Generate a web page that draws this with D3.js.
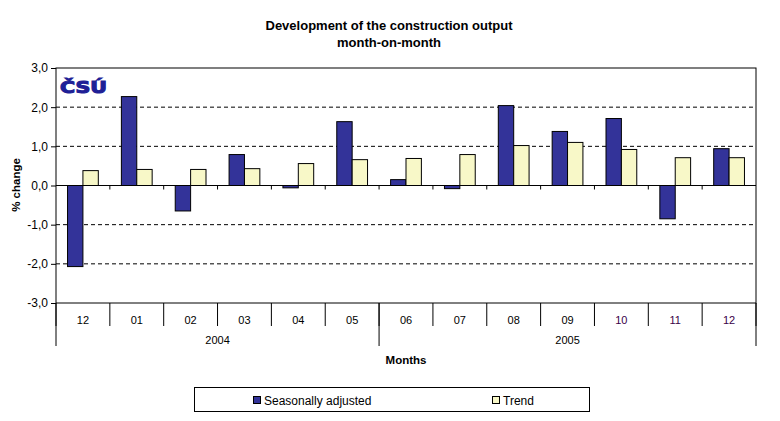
<!DOCTYPE html>
<html>
<head>
<meta charset="utf-8">
<script src="https://cdn.jsdelivr.net/npm/d3@7"></script>
<style>
  body { margin: 0; background: #fff; }
  svg { display: block; font-family: "Liberation Sans", Arial, sans-serif; }
</style>
</head>
<body>
<svg id="chart" width="780" height="421"></svg>
<script>
// chart data
const months = ["12", "01", "02", "03", "04", "05", "06", "07", "08", "09", "10", "11", "12"];
const yearLabels = ["2004", "2005"];
const yearSpans = [6, 7];
const seasonal = [-2.07, 2.27, -0.65, 0.79, -0.06, 1.63, 0.15, -0.08, 2.04, 1.38, 1.71, -0.85, 0.94];
const trend = [0.38, 0.41, 0.41, 0.43, 0.56, 0.66, 0.69, 0.79, 1.02, 1.10, 0.92, 0.71, 0.71];
const yTicks = [-3, -2, -1, 0, 1, 2, 3];
const seriesNames = ["Seasonally adjusted", "Trend"];
const colors = ["#333399", "#f8f8c8"];

const svg = d3.select("#chart");
const plotLeft = 56, plotRight = 756, plotTop = 68, plotBottom = 303;

const x0 = d3.scaleBand().domain(d3.range(months.length)).range([plotLeft, plotRight]);
const x1 = d3.scaleBand().domain([0, 1]).range([0, x0.bandwidth()])
    .paddingInner(0).paddingOuter(0.75);
const y = d3.scaleLinear().domain([-3, 3]).range([plotBottom, plotTop]);

// title
const title = svg.append("text")
    .attr("x", 389).attr("text-anchor", "middle")
    .attr("font-size", 13).attr("font-weight", "bold");
title.append("tspan").attr("x", 389).attr("y", 30).text("Development of the construction output");
title.append("tspan").attr("x", 389).attr("y", 47).text("month-on-month");

// dashed gridlines
svg.append("g")
    .selectAll("line")
    .data(yTicks.filter(d => d !== 0 && Math.abs(d) !== 3))
    .enter().append("line")
    .attr("x1", plotLeft).attr("x2", plotRight)
    .attr("y1", d => y(d)).attr("y2", d => y(d))
    .attr("stroke", "#000").attr("stroke-dasharray", "4,3");

// plot frame
svg.append("rect")
    .attr("x", plotLeft).attr("y", plotTop)
    .attr("width", plotRight - plotLeft).attr("height", plotBottom - plotTop)
    .attr("fill", "none").attr("stroke", "#000");

// logo
svg.append("text")
    .attr("x", 60).attr("y", 93)
    .attr("font-family", "DejaVu Sans")
    .attr("font-size", 16).attr("font-weight", "bold")
    .attr("textLength", 47).attr("lengthAdjust", "spacingAndGlyphs")
    .attr("fill", "#1f1f96")
    .attr("stroke", "#1f1f96").attr("stroke-width", 1.1)
    .text("ČSÚ");

// bars
const series = [seasonal, trend];
series.forEach((vals, s) => {
    svg.append("g")
        .selectAll("rect")
        .data(vals)
        .enter().append("rect")
        .attr("x", (d, i) => x0(i) + x1(s))
        .attr("width", x1.bandwidth())
        .attr("y", d => y(Math.max(0, d)))
        .attr("height", d => Math.abs(y(d) - y(0)))
        .attr("fill", colors[s])
        .attr("stroke", "#000")
        .attr("stroke-width", 1);
});

// zero line with small ticks
svg.append("line")
    .attr("x1", plotLeft).attr("x2", plotRight)
    .attr("y1", y(0)).attr("y2", y(0))
    .attr("stroke", "#000");
svg.append("g")
    .selectAll("line")
    .data(d3.range(1, months.length))
    .enter().append("line")
    .attr("x1", i => x0(i)).attr("x2", i => x0(i))
    .attr("y1", y(0)).attr("y2", y(0) + 4)
    .attr("stroke", "#000");

// y axis
const yAxis = svg.append("g")
    .attr("transform", `translate(${plotLeft},0)`)
    .call(d3.axisLeft(y).tickValues(yTicks).tickSize(5).tickPadding(3)
        .tickFormat(d => d3.format(".1f")(d).replace(".", ",").replace("−", "-")));
yAxis.select(".domain").remove();
yAxis.selectAll("line").attr("stroke", "#000");
yAxis.selectAll("text").attr("font-size", 12).attr("fill", "#000")
    .attr("font-family", "Liberation Sans, Arial, sans-serif");

svg.append("text")
    .attr("transform", "translate(20,185) rotate(-90)")
    .attr("text-anchor", "middle")
    .attr("font-size", 11.5).attr("font-weight", "bold")
    .text("% change");

// category axis: month separators and labels
svg.append("g")
    .selectAll("line")
    .data(d3.range(0, months.length + 1))
    .enter().append("line")
    .attr("x1", i => i < months.length ? x0(i) : plotRight)
    .attr("x2", i => i < months.length ? x0(i) : plotRight)
    .attr("y1", plotBottom).attr("y2", plotBottom + 23)
    .attr("stroke", "#000");

svg.append("g")
    .selectAll("text")
    .data(months)
    .enter().append("text")
    .attr("x", (d, i) => x0(i) + x0.bandwidth() / 2)
    .attr("y", 324)
    .attr("text-anchor", "middle")
    .attr("font-size", 11)
    .attr("fill", (d, i) => i >= 10 ? "#3a0048" : "#000")
    .text(d => d);

// year groups
const yearStarts = yearSpans.map((s, k) => d3.sum(yearSpans.slice(0, k)));
const yearEdges = yearStarts.concat([months.length]);
svg.append("g")
    .selectAll("line")
    .data(yearEdges)
    .enter().append("line")
    .attr("x1", i => i < months.length ? x0(i) : plotRight)
    .attr("x2", i => i < months.length ? x0(i) : plotRight)
    .attr("y1", plotBottom).attr("y2", 346)
    .attr("stroke", "#000");

svg.append("g")
    .selectAll("text")
    .data(yearLabels)
    .enter().append("text")
    .attr("x", (d, k) => {
        const a = x0(yearStarts[k]);
        const endIdx = yearStarts[k] + yearSpans[k];
        const b = endIdx < months.length ? x0(endIdx) : plotRight;
        return (a + b) / 2;
    })
    .attr("y", 344)
    .attr("text-anchor", "middle")
    .attr("font-size", 11)
    .text(d => d);

svg.append("text")
    .attr("x", 406).attr("y", 364)
    .attr("text-anchor", "middle")
    .attr("font-size", 11.5).attr("font-weight", "bold")
    .text("Months");

// legend
svg.append("rect")
    .attr("x", 194.5).attr("y", 387.5)
    .attr("width", 395).attr("height", 24)
    .attr("fill", "#fff").attr("stroke", "#000");

const legendX = [253, 492];
const legend = svg.append("g")
    .selectAll("g")
    .data(seriesNames)
    .enter().append("g")
    .attr("transform", (d, i) => `translate(${legendX[i]},0)`);
legend.append("rect")
    .attr("x", 0.5).attr("y", 396.5)
    .attr("width", 7).attr("height", 7)
    .attr("fill", (d, i) => colors[i]).attr("stroke", "#000");
legend.append("text")
    .attr("x", 11).attr("y", 404.5)
    .attr("font-size", 12)
    .text(d => d);
</script>
</body>
</html>
